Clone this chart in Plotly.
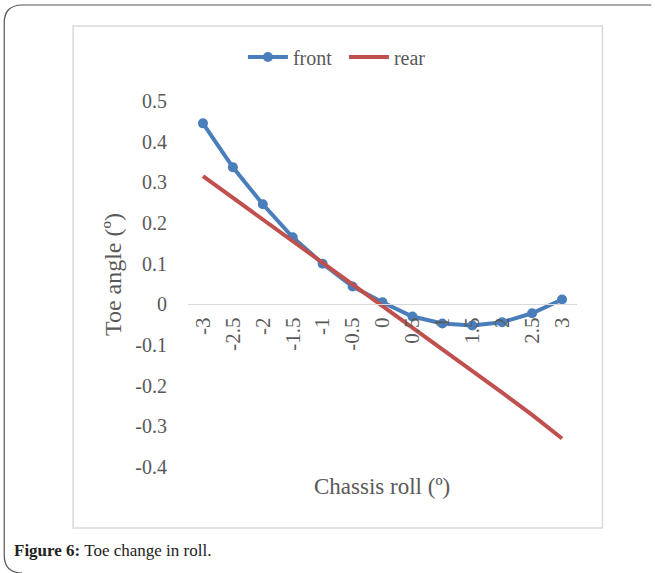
import plotly.graph_objects as go

# Data
roll = [-3, -2.5, -2, -1.5, -1, -0.5, 0, 0.5, 1, 1.5, 2, 2.5, 3]
roll_labels = ["-3", "-2.5", "-2", "-1.5", "-1", "-0.5", "0", "0.5", "1", "1.5", "2", "2.5", "3"]
front = [0.445, 0.337, 0.246, 0.165, 0.100, 0.044, 0.005, -0.030, -0.047, -0.052, -0.044, -0.022, 0.012]
rear = [0.315, 0.262, 0.208, 0.155, 0.103, 0.050, -0.003, -0.056, -0.110, -0.163, -0.217, -0.272, -0.330]
y_ticks = [0.5, 0.4, 0.3, 0.2, 0.1, 0, -0.1, -0.2, -0.3, -0.4]

W, H = 655, 573
L, R, T, B = 188, 577.5, 101, 467

def px(x):
    return (x - L) / (R - L)

def py(y):
    return (B - y) / (B - T)

FONT = "Liberation Serif"
GRAY = "#595959"

fig = go.Figure()
fig.add_trace(go.Scatter(
    x=roll, y=front, name="front", mode="lines+markers",
    line=dict(color="#4a7ebb", width=4),
    marker=dict(size=10, color="#4a7ebb"),
))
fig.add_trace(go.Scatter(
    x=roll, y=rear, name="rear", mode="lines",
    line=dict(color="#c0504d", width=4),
))

fig.update_layout(
    width=W, height=H,
    margin=dict(l=L, r=W - R, t=T, b=H - B, pad=0, autoexpand=False),
    paper_bgcolor="white", plot_bgcolor="white",
    font=dict(family=FONT, color=GRAY, size=16),
    showlegend=True,
    legend=dict(
        orientation="h", x=px(243), y=py(57), xanchor="left", yanchor="middle",
        font=dict(family=FONT, size=20, color=GRAY),
        itemwidth=40, entrywidth=46, tracegroupgap=0, bgcolor="rgba(0,0,0,0)",
    ),
    xaxis=dict(
        range=[-3.25, 3.25], tickvals=roll, ticktext=roll_labels,
        tickangle=-90, showgrid=False, zeroline=False,
        showline=True, linecolor="#d9d9d9", linewidth=1,
        anchor="free", position=py(304), ticks="", automargin=False,
        tickfont=dict(family=FONT, size=21, color=GRAY),
        ticklabelstandoff=4,
    ),
    yaxis=dict(
        range=[-0.4, 0.5], tickvals=y_ticks, automargin=False,
        ticktext=[("%g" % v) for v in y_ticks],
        showgrid=False, zeroline=False, showline=False, ticks="",
        tickfont=dict(family=FONT, size=20, color=GRAY),
        ticklabelstandoff=20,
    ),
    shapes=[
        dict(type="rect", xref="paper", yref="paper",
             x0=px(73), x1=px(603), y0=py(26), y1=py(528),
             line=dict(color="#d9d9d9", width=1.5), layer="below"),
        dict(type="path", xref="paper", yref="paper",
             path=(f"M {px(652)},{py(5)} L {px(22)},{py(5)} "
                   f"Q {px(4)},{py(5)} {px(4)},{py(23)} "
                   f"L {px(4)},{py(555)} Q {px(4)},{py(573)} {px(22)},{py(573)}"),
             line=dict(color="#555555", width=1.2)),
    ],
    annotations=[
        dict(text="Toe angle (º)", xref="paper", yref="paper", textangle=-90,
             x=px(113), y=py(275), showarrow=False, xanchor="center", yanchor="middle",
             font=dict(family=FONT, size=24, color=GRAY)),
        dict(text="Chassis roll (º)", xref="paper", yref="paper",
             x=px(382), y=py(486), showarrow=False, xanchor="center", yanchor="middle",
             font=dict(family=FONT, size=23, color=GRAY)),
        dict(text="<b>Figure 6:</b> Toe change in roll.", xref="paper", yref="paper",
             x=px(12), y=py(550), showarrow=False, xanchor="left", yanchor="middle",
             font=dict(family=FONT, size=17, color="#222222")),
    ],
)

fig.write_html("out.html")
